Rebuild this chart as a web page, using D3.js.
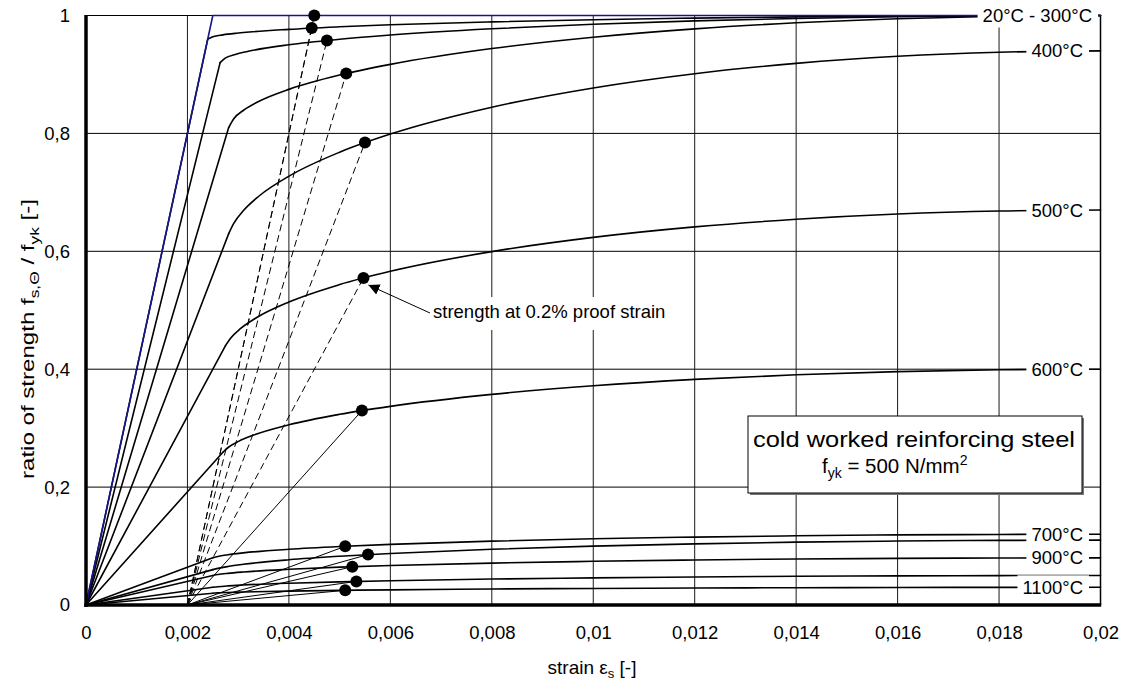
<!DOCTYPE html>
<html>
<head>
<meta charset="utf-8">
<script src="https://cdn.jsdelivr.net/npm/d3@7"></script>
<style>
  html, body { margin: 0; padding: 0; background: #fff; }
  svg { display: block; font-family: "Liberation Sans", Arial, Helvetica, sans-serif; }
</style>
</head>
<body>
<svg id="chart" width="1128" height="681"></svg>
<script>
// ---- axis ticks ----
const xTicks = [0, 0.002, 0.004, 0.006, 0.008, 0.010, 0.012, 0.014, 0.016, 0.018, 0.020];
const xTickLabels = ["0", "0,002", "0,004", "0,006", "0,008", "0,01", "0,012", "0,014", "0,016", "0,018", "0,02"];
const yTicks = [0, 0.2, 0.4, 0.6, 0.8, 1];
const yTickLabels = ["0", "0,2", "0,4", "0,6", "0,8", "1"];

// ---- stress-strain curves: [strain, f_s,θ / f_yk] ----
const temperatures = [20, 100, 200, 300, 400, 500, 600, 700, 800, 900, 1000, 1100];
const curve20 = [[0, 0], [0.0025, 1], [0.02, 1]];
const curve100 = [[0, 0], [0.0024, 0.96], [0.0025, 0.9641], [0.0027, 0.9672], [0.003, 0.9702], [0.004, 0.9765], [0.005, 0.9808], [0.006, 0.9842], [0.008, 0.9892], [0.01, 0.9929], [0.012, 0.9956], [0.014, 0.9976], [0.016, 0.9989], [0.018, 0.9997], [0.02, 1]];
const curve200 = [[0, 0], [0.002644, 0.92], [0.002744, 0.9277], [0.002944, 0.934], [0.003244, 0.9401], [0.004, 0.9504], [0.005, 0.9597], [0.006, 0.9669], [0.008, 0.9775], [0.01, 0.9852], [0.012, 0.9909], [0.014, 0.995], [0.016, 0.9978], [0.018, 0.9995], [0.02, 1]];
const curve300 = [[0, 0], [0.002813, 0.81], [0.002913, 0.8248], [0.003113, 0.8397], [0.003413, 0.8545], [0.004013, 0.8751], [0.005, 0.899], [0.006, 0.9171], [0.008, 0.9439], [0.01, 0.9631], [0.012, 0.9773], [0.014, 0.9876], [0.016, 0.9946], [0.018, 0.9987], [0.02, 1]];
const curve400 = [[0, 0], [0.002813, 0.63], [0.002913, 0.6473], [0.003113, 0.6699], [0.003413, 0.6938], [0.004013, 0.728], [0.005, 0.7681], [0.006, 0.7988], [0.008, 0.8444], [0.01, 0.8771], [0.012, 0.9013], [0.014, 0.9188], [0.016, 0.9308], [0.018, 0.9377], [0.02, 0.94]];
const curve500 = [[0, 0], [0.00275, 0.44], [0.00285, 0.4525], [0.00305, 0.4691], [0.00335, 0.4868], [0.004, 0.5139], [0.005, 0.5435], [0.006, 0.566], [0.008, 0.5995], [0.01, 0.6236], [0.012, 0.6414], [0.014, 0.6543], [0.016, 0.6632], [0.018, 0.6683], [0.02, 0.67]];
const curve600 = [[0, 0], [0.002708, 0.26], [0.002808, 0.2676], [0.003008, 0.2776], [0.003308, 0.2883], [0.004, 0.3057], [0.005, 0.3235], [0.006, 0.337], [0.008, 0.3573], [0.01, 0.3719], [0.012, 0.3827], [0.014, 0.3905], [0.016, 0.3959], [0.018, 0.399], [0.02, 0.4]];
const curve700 = [[0, 0], [0.0025, 0.08], [0.0026, 0.0824], [0.0028, 0.0853], [0.0031, 0.0884], [0.004, 0.0945], [0.005, 0.0992], [0.006, 0.1028], [0.008, 0.1083], [0.01, 0.1123], [0.012, 0.1152], [0.014, 0.1174], [0.016, 0.1189], [0.018, 0.1197], [0.02, 0.12]];
const curve800 = [[0, 0], [0.0025, 0.06], [0.0026, 0.0621], [0.0028, 0.0653], [0.0031, 0.069], [0.004, 0.0767], [0.005, 0.0827], [0.006, 0.0874], [0.008, 0.0946], [0.01, 0.0998], [0.012, 0.1037], [0.014, 0.1066], [0.016, 0.1085], [0.018, 0.1096], [0.02, 0.11]];
const curve900 = [[0, 0], [0.0025, 0.05], [0.0026, 0.0516], [0.0028, 0.0537], [0.0031, 0.056], [0.004, 0.0606], [0.005, 0.0642], [0.006, 0.0669], [0.008, 0.0711], [0.01, 0.0741], [0.012, 0.0764], [0.014, 0.078], [0.016, 0.0791], [0.018, 0.0798], [0.02, 0.08]];
const curve1000 = [[0, 0], [0.0025, 0.03], [0.0026, 0.031], [0.0028, 0.0324], [0.0031, 0.0339], [0.004, 0.037], [0.005, 0.0393], [0.006, 0.0412], [0.008, 0.044], [0.01, 0.046], [0.012, 0.0476], [0.014, 0.0487], [0.016, 0.0494], [0.018, 0.0499], [0.02, 0.05]];
const curve1100 = [[0, 0], [0.0025, 0.02], [0.0026, 0.0206], [0.0028, 0.0213], [0.0031, 0.0221], [0.004, 0.0236], [0.005, 0.0248], [0.006, 0.0257], [0.008, 0.0271], [0.01, 0.0281], [0.012, 0.0288], [0.014, 0.0293], [0.016, 0.0297], [0.018, 0.0299], [0.02, 0.03]];

// ---- strength at 0.2 % proof strain (one point per temperature) ----
const proofStrain = [0.0045, 0.00445, 0.00475, 0.00513, 0.0055, 0.00547, 0.00544, 0.00511, 0.00556, 0.00525, 0.00533, 0.00511];
const proofRatio  = [1.0, 0.9786, 0.9577, 0.9016, 0.7844, 0.5547, 0.3298, 0.0996, 0.0855, 0.0649, 0.04, 0.0249];
const proofOrigin = 0.002;

// ---- curve end labels ----
const endLabels = ["20°C - 300°C", "400°C", "500°C", "600°C", "700°C", "900°C", "1100°C"];
const endLabelRatio = [1.0, 0.94, 0.67, 0.40, 0.12, 0.08, 0.03];

const curves = [curve20, curve100, curve200, curve300, curve400, curve500, curve600,
                curve700, curve800, curve900, curve1000, curve1100];

// ---------------------------------------------------------------
const svg = d3.select("#chart");
const x = d3.scaleLinear().domain([0, 0.02]).range([86, 1100.5]);
const y = d3.scaleLinear().domain([0, 1]).range([605, 15.5]);

// grid
const grid = svg.append("g");
grid.selectAll("line.h").data(yTicks.filter(v => v > 0)).join("line")
  .attr("class", "h")
  .attr("x1", x(0)).attr("x2", x(0.02))
  .attr("y1", d => y(d)).attr("y2", d => y(d))
  .attr("stroke", "#000").attr("stroke-width", 1);
grid.selectAll("line.v").data(xTicks.filter(v => v > 0 && v < 0.02)).join("line")
  .attr("class", "v")
  .attr("x1", d => x(d)).attr("x2", d => x(d))
  .attr("y1", y(0)).attr("y2", y(1))
  .attr("stroke", "#1a1a1a").attr("stroke-width", 1);
// right frame
grid.append("line")
  .attr("x1", x(0.02)).attr("x2", x(0.02)).attr("y1", y(0)).attr("y2", y(1))
  .attr("stroke", "#000").attr("stroke-width", 1.5);

// proof-strain construction lines from 0.2 % offset
const proofG = svg.append("g");
temperatures.forEach((t, i) => {
  proofG.append("line")
    .attr("x1", x(proofOrigin)).attr("y1", y(0))
    .attr("x2", x(proofStrain[i])).attr("y2", y(proofRatio[i]))
    .attr("stroke", "#000")
    .attr("stroke-width", 1)
    .attr("stroke-dasharray", t <= 500 ? "7,4" : null);
});

// curves: linear elastic branch + smooth plastic branch
const lineLin = d3.line().x(d => x(d[0])).y(d => y(d[1]));
const lineSmooth = d3.line().x(d => x(d[0])).y(d => y(d[1])).curve(d3.curveMonotoneX);
const curveG = svg.append("g").attr("fill", "none").attr("stroke-linecap", "round").attr("stroke-linejoin", "round");
for (let i = curves.length - 1; i >= 1; i--) {
  const pts = curves[i];
  curveG.append("path").attr("d", lineLin(pts.slice(0, 2)))
    .attr("stroke", "#000").attr("stroke-width", 1.6);
  curveG.append("path").attr("d", lineSmooth(pts.slice(1)))
    .attr("stroke", "#000").attr("stroke-width", 1.6);
}
curveG.append("path").attr("d", lineLin(curve20))
  .attr("stroke", "#16168a").attr("stroke-width", 1.6);

// proof points
svg.append("g").selectAll("circle").data(temperatures).join("circle")
  .attr("cx", (d, i) => x(proofStrain[i]))
  .attr("cy", (d, i) => y(proofRatio[i]))
  .attr("r", 6)
  .attr("fill", "#000");

// end labels with white background
const labG = svg.append("g").attr("font-size", 18.5).attr("fill", "#000");
endLabels.forEach((txt, i) => {
  const g = labG.append("g");
  const rightX = i === 0 ? 1092 : 1083;
  const cy = y(endLabelRatio[i]);
  const tx = g.append("text")
    .attr("x", rightX).attr("y", cy).attr("dy", "0.35em")
    .attr("text-anchor", "end").text(txt);
  const bb = tx.node().getBBox();
  g.insert("rect", "text")
    .attr("x", bb.x - 5).attr("y", cy - 12)
    .attr("width", bb.width + 11).attr("height", 24)
    .attr("fill", "#fff");
});

// axes (thick left & bottom)
const xAxis = d3.axisBottom(x).tickValues(xTicks).tickSize(0).tickPadding(0)
  .tickFormat((d, i) => xTickLabels[i]);
const gx = svg.append("g").attr("transform", `translate(0,${y(0)})`).call(xAxis);
gx.select(".domain").remove();
gx.selectAll("text").attr("font-size", 18.5).attr("font-family", "Liberation Sans, Arial, sans-serif")
  .attr("fill", "#000").attr("dy", null).attr("y", 34);

const yAxis = d3.axisLeft(y).tickValues(yTicks).tickSize(0).tickPadding(16)
  .tickFormat((d, i) => yTickLabels[i]);
const gy = svg.append("g").attr("transform", `translate(${x(0)},0)`).call(yAxis);
gy.select(".domain").remove();
gy.selectAll("text").attr("font-size", 18.5).attr("font-family", "Liberation Sans, Arial, sans-serif")
  .attr("fill", "#000");

svg.append("line").attr("x1", x(0)).attr("x2", x(0)).attr("y1", y(1) - 0.5).attr("y2", y(0) + 2)
  .attr("stroke", "#000").attr("stroke-width", 3.5);
svg.append("line").attr("x1", x(0) - 1.7).attr("x2", x(0.02) + 0.7).attr("y1", y(0)).attr("y2", y(0))
  .attr("stroke", "#000").attr("stroke-width", 3.5);

// axis titles
const xt = svg.append("text").attr("x", 592).attr("y", 674)
  .attr("text-anchor", "middle").attr("font-size", 19);
xt.append("tspan").text("strain ε");
xt.append("tspan").attr("font-size", 13).attr("dy", 4).text("s");
xt.append("tspan").attr("dy", -4).text(" [-]");

const yt = svg.append("text").attr("transform", "translate(34,339) rotate(-90)")
  .attr("text-anchor", "middle").attr("font-size", 18)
  .attr("textLength", 280).attr("lengthAdjust", "spacingAndGlyphs");
yt.append("tspan").text("ratio of strength f");
yt.append("tspan").attr("font-size", 13).attr("dy", 5).text("s,Θ");
yt.append("tspan").attr("dy", -5).text(" / f");
yt.append("tspan").attr("font-size", 13).attr("dy", 5).text("yk");
yt.append("tspan").attr("dy", -5).text(" [-]");

// info box
const box = svg.append("g");
box.append("rect").attr("x", 750).attr("y", 418).attr("width", 334).attr("height", 77).attr("fill", "#777");
box.append("rect").attr("x", 748).attr("y", 416).attr("width", 334).attr("height", 77)
  .attr("fill", "#fff").attr("stroke", "#000").attr("stroke-width", 1);
box.append("text").attr("x", 914).attr("y", 447).attr("text-anchor", "middle")
  .attr("font-size", 22).attr("textLength", 322).attr("lengthAdjust", "spacingAndGlyphs")
  .text("cold worked reinforcing steel");
const l2 = box.append("text").attr("x", 822).attr("y", 473).attr("font-size", 20.5);
l2.append("tspan").text("f");
l2.append("tspan").attr("font-size", 14).attr("dy", 5).text("yk");
l2.append("tspan").attr("dy", -5).text(" = 500 N/mm");
l2.append("tspan").attr("font-size", 14).attr("dy", -8).text("2");

// annotation: label with white backing and arrow to the 500°C proof point
const tipX = x(proofStrain[5]) + 5, tipY = y(proofRatio[5]) + 7;
svg.append("defs").append("marker")
  .attr("id", "arrowHead").attr("viewBox", "0 0 10 10")
  .attr("refX", 10).attr("refY", 5)
  .attr("markerWidth", 11).attr("markerHeight", 11)
  .attr("markerUnits", "userSpaceOnUse").attr("orient", "auto")
  .append("path").attr("d", "M0,0 L10,5 L0,10 Z").attr("fill", "#000");
const ann = svg.append("g");
const annText = ann.append("text").attr("x", 433).attr("y", 318).attr("font-size", 18.5)
  .text("strength at 0.2% proof strain");
const abb = annText.node().getBBox();
ann.insert("rect", "text")
  .attr("x", abb.x - 3).attr("y", 297)
  .attr("width", abb.width + 8).attr("height", 33)
  .attr("fill", "#fff");
svg.append("line")
  .attr("x1", 430).attr("y1", 313).attr("x2", tipX).attr("y2", tipY)
  .attr("stroke", "#000").attr("stroke-width", 1).attr("marker-end", "url(#arrowHead)");
</script>
</body>
</html>
